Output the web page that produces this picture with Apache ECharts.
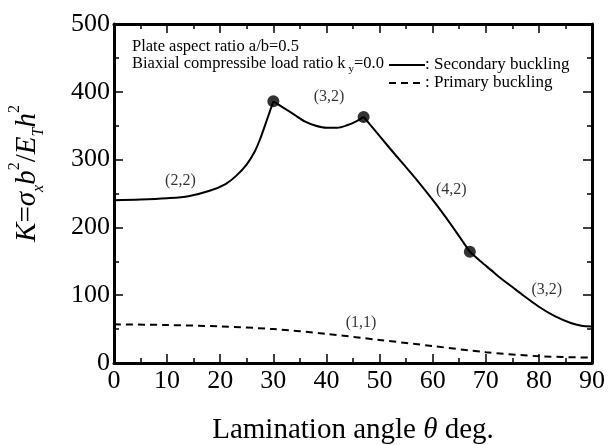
<!DOCTYPE html>
<html>
<head>
<meta charset="utf-8">
<script src="https://cdn.jsdelivr.net/npm/echarts@6/dist/echarts.min.js"></script>
<style>html,body{margin:0;padding:0;background:#fff;}#c{width:608px;height:445px;}</style>
</head>
<body>
<div id="c"></div>
<script>
// Secondary buckling curve segments (theta deg, K)
const secSeg1 = [[0,240],[5,241],[10,243],[14,246],[18,254],[21,264],[23,276],[25,293],[26.5,312],[27.5,330],[28.5,352],[29.3,370],[30,386]];
const secSeg2 = [[30,386],[32,376],[34,366],[36,356],[38,350],[40,347],[42,347],[44,351],[45.5,356],[47,363]];
const secSeg3 = [[47,363],[52,316],[57,270],[62,220],[67,164]];
const secSeg4 = [[67,164],[69,150],[71,137],[73,124],[75,112],[77,100],[80,83],[83,69],[86,59],[88,55],[90,54]];
// Primary buckling curve
const primary = [[0,57],[10,56],[20,54],[30,50],[40,43],[50,34],[60,25],[70,16],[80,10],[90,8]];
// Mode-change points
const dots = [[30,386],[47,363],[67,164]];
// Mode annotations
const modeLabels = [
  {name:'(2,2)', value:[12.5,268]},
  {name:'(3,2)', value:[40.5,392]},
  {name:'(4,2)', value:[63.5,256]},
  {name:'(3,2)', value:[81.5,108]},
  {name:'(1,1)', value:[46.5,60]}
];
const xTicks = {min:0, max:90, interval:10};
const yTicks = {min:0, max:500, interval:100};

const serif = 'Liberation Serif';
const chart = echarts.init(document.getElementById('c'), null, {renderer:'canvas'});
const axisLine = {show:true, onZero:false, lineStyle:{color:'#000', width:3}};
const common = {
  axisTick:{show:true, inside:true, length:9, lineStyle:{color:'#000', width:1.5}},
  minorTick:{show:true, splitNumber:2, length:5, lineStyle:{color:'#000', width:1.5}},
  splitLine:{show:false}
};
const secStyle = {type:'line', name:'Secondary', symbol:'none', smooth:0.3,
  lineStyle:{color:'#000', width:2}, itemStyle:{color:'#000'}, z:3, silent:true};
chart.setOption({
  animation:false,
  grid:{left:114, right:16, top:24, bottom:82, containLabel:false, outerBoundsMode:'none'},
  legend:{
    orient:'vertical', left:383, top:51, itemWidth:36, itemHeight:6, itemGap:0,
    data:['Secondary','Primary'],
    itemStyle:{opacity:0},
    formatter: n => n === 'Secondary' ? ': Secondary buckling' : ': Primary buckling',
    textStyle:{fontFamily:serif, fontSize:17, color:'#000', lineHeight:18, padding:[0,0,0,-5]}
  },
  graphic:[
    {type:'text', left:132, top:38, style:{text:'Plate aspect ratio a/b=0.5', font:'16.5px "Liberation Serif"', fill:'#000'}},
    {type:'text', left:132, top:55, style:{
      text:'Biaxial compressibe load ratio k{s|y}=0.0',
      rich:{s:{fontSize:11, fontFamily:serif, verticalAlign:'bottom', lineHeight:23, padding:[0,0,0,3]}},
      font:'16.5px "Liberation Serif"', fill:'#000'}}
  ],
  xAxis:[
    Object.assign({type:'value', min:xTicks.min, max:xTicks.max, interval:xTicks.interval, position:'bottom',
      axisLine:axisLine,
      axisLabel:{color:'#000', fontFamily:serif, fontSize:26, margin:5},
      name:'{n|Lamination angle }{i|θ}{n| deg.}', nameLocation:'middle', nameGap:53,
      nameTextStyle:{rich:{n:{fontFamily:serif, fontSize:29, color:'#000'}, i:{fontFamily:serif, fontStyle:'italic', fontSize:29, color:'#000'}}}
    }, common),
    Object.assign({type:'value', min:xTicks.min, max:xTicks.max, interval:xTicks.interval, position:'top',
      axisLine:axisLine, axisLabel:{show:false}}, common)
  ],
  yAxis:[
    Object.assign({type:'value', min:yTicks.min, max:yTicks.max, interval:yTicks.interval, position:'left',
      axisLine:axisLine,
      axisLabel:{color:'#000', fontFamily:serif, fontSize:26, margin:4},
      name:'{i|K}{n|=}{i|σ}{sb|x}{i|b}{sp|2}{n|/}{i|E}{sb|T}{i|h}{sp|2}', nameLocation:'middle', nameRotate:90, nameGap:67,
      nameTextStyle:{padding:[0,0,0,40], rich:{
        i:{fontFamily:serif, fontStyle:'italic', fontSize:29, color:'#000', lineHeight:40},
        n:{fontFamily:serif, fontSize:29, color:'#000', lineHeight:40},
        sb:{fontFamily:serif, fontStyle:'italic', fontSize:16, color:'#000', verticalAlign:'bottom', lineHeight:32},
        sp:{fontFamily:serif, fontSize:16, color:'#000', verticalAlign:'top', lineHeight:32}
      }}
    }, common),
    Object.assign({type:'value', min:yTicks.min, max:yTicks.max, interval:yTicks.interval, position:'right',
      axisLine:axisLine, axisLabel:{show:false}}, common)
  ],
  series:[
    Object.assign({data:secSeg1}, secStyle),
    Object.assign({data:secSeg2}, secStyle),
    Object.assign({data:secSeg3}, secStyle),
    Object.assign({data:secSeg4}, secStyle),
    {type:'line', name:'Primary', data:primary, symbol:'none', smooth:0.3,
      lineStyle:{color:'#000', width:2, type:[7,5]}, itemStyle:{color:'#000'}, z:3, silent:true},
    {type:'scatter', name:'points', data:dots, symbol:'circle', symbolSize:12, itemStyle:{color:'#000'}, z:4, silent:true},
    {type:'scatter', name:'labels', data:modeLabels, symbolSize:0, silent:true,
      label:{show:true, position:'inside', formatter:p=>p.name, fontFamily:serif, fontSize:16, color:'#000'}}
  ]
});
</script>
</body>
</html>
